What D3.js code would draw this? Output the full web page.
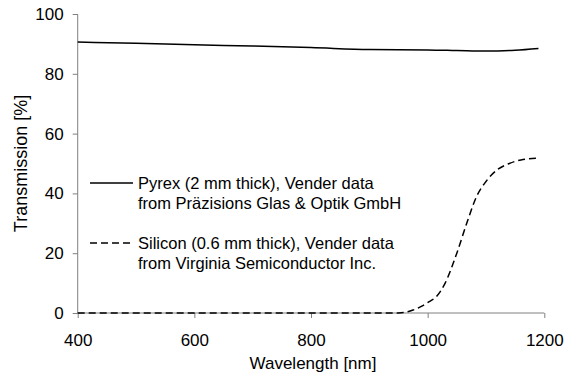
<!DOCTYPE html>
<html>
<head>
<meta charset="utf-8">
<script src="https://cdn.jsdelivr.net/npm/d3@7"></script>
<style>
  body { margin: 0; background: #fff; }
  text { font-family: "Liberation Sans", Arial, sans-serif; fill: #000; }
</style>
</head>
<body>
<svg width="566" height="377"></svg>
<script>
// transmission data
const pyrexWl  = [400, 500, 600, 700, 800, 900, 1000, 1050, 1100, 1150, 1190];
const pyrexVal = [90.6, 90.2, 89.7, 89.3, 88.8, 88.1, 88.0, 87.8, 87.6, 87.9, 88.5];

const siWl  = [400, 950, 975, 990, 1000, 1015, 1030, 1050, 1067, 1084, 1100, 1120, 1140, 1160, 1190];
const siVal = [0, 0, 1, 2.3, 3.5, 5.5, 10, 20, 30, 39, 44, 48, 50, 51.2, 51.8];

const xTicks = [400, 600, 800, 1000, 1200];
const yTicks = [0, 20, 40, 60, 80, 100];

const legendLines = [
  ['Pyrex (2 mm thick), Vender data', 'from Präzisions Glas & Optik GmbH'],
  ['Silicon (0.6 mm thick), Vender data', 'from Virginia Semiconductor Inc.']
];

let svg = d3.select('svg');
const plotLeft = 77.7, plotRight = 544.3, plotTop = 14, plotBottom = 313;

let x = d3.scaleLinear().domain([400, 1200]).range([plotLeft, plotRight]);
let y = d3.scaleLinear().domain([0, 100]).range([plotBottom, plotTop]);

let xAxis = svg.append('g')
  .attr('transform', 'translate(0,' + plotBottom + ')')
  .call(d3.axisBottom(x).tickValues(xTicks).tickFormat(d3.format('d')).tickSize(5).tickPadding(16));
let yAxis = svg.append('g')
  .attr('transform', 'translate(' + plotLeft + ',0)')
  .call(d3.axisLeft(y).tickValues(yTicks).tickSize(5).tickPadding(9));

[xAxis, yAxis].forEach(function(a) {
  a.selectAll('path, line').attr('stroke', '#808080').attr('stroke-width', 1);
  a.selectAll('text').style('font-size', '17px').style('font-family', '"Liberation Sans", Arial, sans-serif').attr('fill', '#000');
});
xAxis.select('.domain').attr('d', 'M' + plotLeft + ',0H' + plotRight);
yAxis.select('.domain').attr('d', 'M0,' + plotBottom + 'V' + plotTop);

svg.append('text')
  .attr('x', 313).attr('y', 369)
  .attr('text-anchor', 'middle')
  .style('font-size', '17px')
  .text('Wavelength [nm]');

svg.append('text')
  .attr('transform', 'translate(27,163.5) rotate(-90)')
  .attr('text-anchor', 'middle')
  .style('font-size', '18px')
  .text('Transmission [%]');

let line = d3.line()
  .x(function(d) { return x(d[0]); })
  .y(function(d) { return y(d[1]); })
  .curve(d3.curveMonotoneX);

svg.append('path')
  .datum(d3.zip(pyrexWl, pyrexVal))
  .attr('d', line)
  .attr('fill', 'none')
  .attr('stroke', '#000')
  .attr('stroke-width', 1.5);

svg.append('path')
  .datum(d3.zip(siWl, siVal))
  .attr('d', line)
  .attr('fill', 'none')
  .attr('stroke', '#000')
  .attr('stroke-width', 1.5)
  .attr('stroke-dasharray', '7,4');

// legend
let legend = svg.selectAll('.legend')
  .data(legendLines)
  .enter().append('g')
  .attr('class', 'legend')
  .attr('transform', function(d, i) { return 'translate(90,' + (183 + i * 60) + ')'; });

legend.append('line')
  .attr('x1', 0).attr('x2', 43)
  .attr('y1', 0).attr('y2', 0)
  .attr('stroke', '#000')
  .attr('stroke-width', 1.5)
  .attr('stroke-dasharray', function(d, i) { return i == 1 ? '7,4' : null; });

legend.each(function(d) {
  let g = d3.select(this);
  d.forEach(function(t, j) {
    g.append('text')
      .attr('x', 48).attr('y', 6 + j * 20)
      .style('font-size', '16.5px')
      .text(t);
  });
});
</script>
</body>
</html>
